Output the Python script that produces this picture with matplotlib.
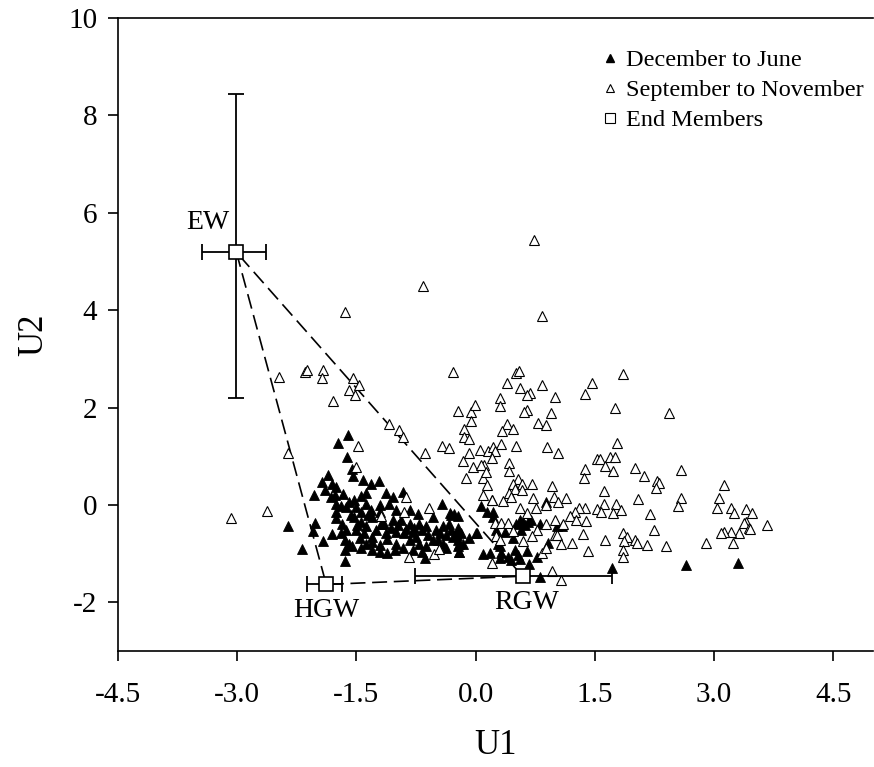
import matplotlib.pyplot as plt
from matplotlib.lines import Line2D

plt.rcParams['font.family'] = 'Liberation Serif'

# U1/U2 scores, December to June samples
dec_jun = [
    (-1.61, 1.44), (-1.73, 1.28), (-1.62, 0.98), (-1.55, 0.75), (-2.03, 0.21),
    (-2.36, -0.43), (-2.19, -0.90), (-2.02, -0.36), (-2.05, -0.53), (-1.92, -0.73),
    (-1.65, -1.14), (0.09, -1.00), (-0.43, 0.02), (-0.32, -0.17), (-0.27, -0.19),
    (-0.08, -0.68), (0.01, -0.58),
    (-1.86, 0.62), (-1.93, 0.48), (-1.81, 0.44), (-1.54, 0.59), (-1.42, 0.51),
    (-1.32, 0.44), (-1.22, 0.50), (-1.89, 0.31), (-1.76, 0.38),
    (-1.77, 0.21), (-1.67, 0.22), (-1.53, 0.10), (-1.44, 0.19), (-1.38, 0.24),
    (-1.13, 0.24), (-1.04, 0.17), (-0.91, 0.27),
    (-1.76, 0.03), (-1.70, -0.02), (-1.59, 0.07), (-1.51, -0.03), (-1.38, 0.03),
    (-1.32, -0.10), (-1.21, 0.00), (-1.09, 0.03), (-1.00, -0.10), (-0.83, -0.10),
    (-0.73, -0.19), (-1.21, -0.14), (-1.76, -0.14), (-1.44, -0.14),
    (-1.76, -0.27), (-1.68, -0.38), (-1.53, -0.24), (-1.44, -0.34), (-1.38, -0.44),
    (-1.30, -0.24), (-1.19, -0.38), (-1.04, -0.31), (-0.98, -0.41), (-0.83, -0.38),
    (-0.77, -0.48), (-0.71, -0.38), (-0.62, -0.44), (-0.54, -0.24), (-0.41, -0.44),
    (-0.34, -0.38), (-0.22, -0.48), (-0.18, -0.58),
    (-1.81, -0.59), (-1.70, -0.58), (-1.63, -0.51), (-1.51, -0.51), (-1.40, -0.58),
    (-1.30, -0.65), (-1.13, -0.58), (-1.00, -0.55), (-0.88, -0.50), (-0.79, -0.55),
    (-0.67, -0.51), (-0.50, -0.51), (-0.37, -0.62), (-0.29, -0.65),
    (-1.65, -0.72), (-1.59, -0.79), (-1.46, -0.68), (-1.38, -0.79), (-1.30, -0.75),
    (-1.21, -0.82), (-1.11, -0.70), (-1.00, -0.79), (-0.83, -0.72), (-0.71, -0.79),
    (-0.62, -0.84), (-0.48, -0.72), (-0.41, -0.79), (-0.22, -0.72),
    (-1.65, -0.92), (-1.55, -0.85), (-1.44, -0.89), (-1.30, -0.92), (-1.21, -0.96),
    (-1.11, -0.98), (-1.02, -0.92), (-0.92, -0.89), (-0.79, -0.92), (-0.67, -0.96),
    (-0.64, -1.09), (-0.37, -0.89), (-0.22, -0.85), (-0.21, -0.96),
    (-1.82, 0.17), (-1.63, -0.03), (-1.57, -0.20), (-1.49, -0.41), (-1.36, -0.20),
    (-1.25, -0.51), (-1.15, -0.38), (-1.06, -0.48), (-0.94, -0.31), (-0.90, -0.58),
    (-0.75, -0.65), (-0.60, -0.62), (-0.54, -0.72), (-0.45, -0.58), (-0.31, -0.51),
    (-0.16, -0.79),
    (0.89, 0.07), (0.91, -0.77), (0.77, -1.06), (1.71, -1.30), (2.64, -1.23),
    (3.30, -1.18), (0.81, -1.47), (0.67, -1.21), (-0.22, -0.22), (-0.31, -0.20),
    (0.02, -0.58), (-0.24, -0.62), (-0.21, -0.79), (-0.21, -0.96), (0.07, -0.02),
    (0.14, -0.14), (0.22, -0.14), (0.37, -0.55), (0.47, -0.68), (0.30, -0.85),
    (0.32, -0.99), (0.30, -1.09), (0.41, -1.06), (0.49, -0.92), (0.53, -1.03),
    (0.56, -1.11), (0.64, -0.94), (0.44, -1.12), (0.56, -0.31), (0.60, -0.35),
    (0.66, -0.34), (0.70, -0.31), (0.62, -0.41), (0.51, -0.38), (0.81, -0.38),
    (1.02, -0.44), (1.08, -0.44), (0.57, -0.51), (0.22, -0.24), (0.26, -0.51),
    (0.28, -0.79), (0.18, -0.99),
]

# U1/U2 scores, September to November samples
sep_nov = [
    (0.73, 5.44), (-0.66, 4.49), (0.83, 3.88), (-1.65, 3.96),
    (-2.48, 2.63), (-2.15, 2.73), (-2.12, 2.77), (-1.92, 2.78), (-1.93, 2.61),
    (-1.54, 2.60), (-1.47, 2.46), (-1.60, 2.36), (-1.52, 2.26), (-1.79, 2.13),
    (-0.28, 2.73), (-1.09, 1.66), (-0.97, 1.55), (-0.91, 1.40), (-1.48, 1.21),
    (-2.36, 1.06), (-0.64, 1.07), (-0.43, 1.22), (-0.34, 1.18), (-0.22, 1.93),
    (-0.06, 1.91), (-0.01, 2.05), (-0.06, 1.73), (-0.15, 1.57), (-0.15, 1.40),
    (-0.09, 1.35), (-0.08, 1.06), (0.06, 1.14), (-0.16, 0.91), (-0.03, 0.79),
    (-0.12, 0.56), (0.09, 0.55), (0.11, 0.82), (0.14, 0.41), (0.09, 0.21),
    (0.20, 0.10), (-0.88, 0.17), (-0.90, -0.14), (-0.59, -0.07), (-2.63, -0.12),
    (-3.08, -0.27), (-1.51, 0.79), (-1.19, -0.23), (-0.84, -1.06), (-0.52, -1.00),
    (-0.46, -0.91), (0.21, -1.18), (0.24, -0.36), (0.25, -0.63),
    (0.51, 2.71), (0.55, 2.76), (1.85, 2.70), (0.39, 2.51), (0.83, 2.46),
    (1.46, 2.50), (0.56, 2.41), (0.68, 2.31), (0.64, 2.27), (1.00, 2.22),
    (1.38, 2.29), (0.30, 2.19), (0.30, 2.03), (0.64, 1.96), (0.61, 1.92),
    (0.95, 1.90), (1.75, 2.00), (2.43, 1.90), (0.40, 1.66), (0.47, 1.57),
    (0.33, 1.52), (0.79, 1.68), (0.88, 1.64), (0.32, 1.25), (0.51, 1.22),
    (0.90, 1.20), (1.04, 1.06), (1.78, 1.27), (0.16, 1.11), (0.22, 1.20),
    (0.24, 1.11), (0.20, 0.96), (0.07, 0.82), (0.13, 0.68), (0.42, 0.87),
    (0.42, 0.70), (1.52, 0.94), (1.57, 0.94), (1.69, 0.98), (1.75, 0.98),
    (1.63, 0.80), (1.73, 0.70), (1.38, 0.75), (1.36, 0.55), (2.01, 0.77),
    (2.12, 0.60), (2.28, 0.49), (2.30, 0.45), (2.27, 0.36), (2.58, 0.72),
    (0.53, 0.53), (0.58, 0.44), (0.47, 0.44), (0.71, 0.44), (0.96, 0.40),
    (0.49, 0.32), (0.58, 0.31), (0.42, 0.24), (0.45, 0.17), (0.21, 0.10),
    (0.34, 0.09), (0.72, 0.15), (0.98, 0.16), (1.13, 0.14), (1.04, 0.07),
    (0.89, 0.01), (1.61, 0.29), (1.61, 0.03), (1.77, 0.03), (1.52, -0.09),
    (1.58, -0.15), (1.73, -0.17), (1.83, -0.10), (2.04, 0.12), (2.19, -0.19),
    (2.24, -0.52), (1.38, -0.06), (1.30, -0.06), (1.25, -0.14), (1.19, -0.22),
    (1.39, -0.33), (1.26, -0.31), (1.10, -0.38), (0.89, -0.38), (1.00, -0.31),
    (0.76, -0.07), (0.65, -0.17), (0.56, -0.07), (0.32, -0.36), (0.41, -0.36),
    (0.77, -0.51), (0.71, -0.63), (0.47, -0.53), (1.00, -0.62), (1.02, -0.62),
    (1.21, -0.77), (1.07, -0.79), (1.35, -0.60), (0.30, -0.72), (0.60, -0.74),
    (0.83, -0.98), (0.89, -0.88), (1.41, -0.94), (1.63, -0.72), (1.85, -0.57),
    (1.90, -0.65), (1.86, -0.74), (1.85, -0.92), (1.85, -1.07), (2.00, -0.72),
    (2.03, -0.77), (2.16, -0.82), (2.40, -0.85), (0.96, -1.35), (1.07, -1.54),
    (2.58, 0.15), (2.55, -0.02), (2.90, -0.77), (3.03, -0.07), (3.06, 0.14),
    (3.13, 0.41), (3.21, -0.07), (3.25, -0.17), (3.40, -0.09), (3.48, -0.17),
    (3.67, -0.40), (3.40, -0.34), (3.38, -0.37), (3.44, -0.48), (3.45, -0.50),
    (3.31, -0.57), (3.21, -0.55), (3.12, -0.55), (3.08, -0.57), (3.24, -0.77),
]

# end members: name, U1, U2, U1 error (minus, plus), U2 error (minus, plus)
em_names = ['EW', 'HGW', 'RGW']
em_u1 = [-3.01, -1.88, 0.59]
em_u2 = [5.19, -1.63, -1.46]
em_xerr = [[0.43, 0.24, 1.35], [0.37, 0.20, 1.13]]
em_yerr = [[3.00, 0.0, 0.0], [3.26, 0.0, 0.0]]
em_label_pos = [(-3.37, 5.80), (-1.88, -2.16), (0.64, -2.00)]

fig = plt.figure(figsize=(8.74, 7.67), dpi=100)
ax = fig.add_axes([0.135, 0.151, 0.864, 0.8255])

# mixing triangle between the end members
tri_x = em_u1 + [em_u1[0]]
tri_y = em_u2 + [em_u2[0]]
ax.plot(tri_x, tri_y, color='black', lw=1.2, dashes=(9, 4), zorder=1)

x1, y1 = zip(*dec_jun)
ax.plot(x1, y1, ls='none', marker='^', ms=7, mfc='black', mec='black', mew=0.6, zorder=2)
x2, y2 = zip(*sep_nov)
ax.plot(x2, y2, ls='none', marker='^', ms=7, mfc='white', mec='black', mew=0.8, zorder=3)

ax.errorbar(em_u1, em_u2, xerr=em_xerr, yerr=em_yerr, fmt='none', ecolor='black',
            elinewidth=1.3, capsize=6, capthick=1.3, zorder=4)
ax.plot(em_u1, em_u2, ls='none', marker='s', ms=10, mfc='white', mec='black', mew=1.2, zorder=5)

for name, (lx, ly) in zip(em_names, em_label_pos):
    ax.text(lx, ly, name, fontsize=20, ha='center', va='center')

ax.set_xlim(-4.5, 5.0)
ax.set_ylim(-3, 10)
ax.set_xticks([-4.5, -3.0, -1.5, 0.0, 1.5, 3.0, 4.5])
ax.set_xticklabels(['-4.5', '-3.0', '-1.5', '0.0', '1.5', '3.0', '4.5'])
ax.set_yticks([-2, 0, 2, 4, 6, 8, 10])
ax.set_yticklabels(['-2', '0', '2', '4', '6', '8', '10'])
ax.tick_params(direction='out', length=7, width=1.2, labelsize=21, top=False, right=False)
ax.tick_params(axis='x', pad=15)
ax.tick_params(axis='y', pad=8)
ax.spines['right'].set_visible(False)
for s in ['left', 'top', 'bottom']:
    ax.spines[s].set_linewidth(1.2)

ax.set_xlabel('U1', fontsize=25, labelpad=15)
ax.set_ylabel('U2', fontsize=25, labelpad=13)

handles = [
    Line2D([], [], ls='none', marker='^', ms=6, mfc='black', mec='black'),
    Line2D([], [], ls='none', marker='^', ms=6, mfc='white', mec='black', mew=0.8),
    Line2D([], [], ls='none', marker='s', ms=7, mfc='white', mec='black', mew=0.8),
]
ax.legend(handles, ['December to June', 'September to November', 'End Members'],
          loc='upper left', bbox_to_anchor=(0.626, 0.966), frameon=False, fontsize=17.5,
          handlelength=0.8, handletextpad=0.25, labelspacing=0.33, borderaxespad=0)

fig.savefig('out.png', dpi=100)
